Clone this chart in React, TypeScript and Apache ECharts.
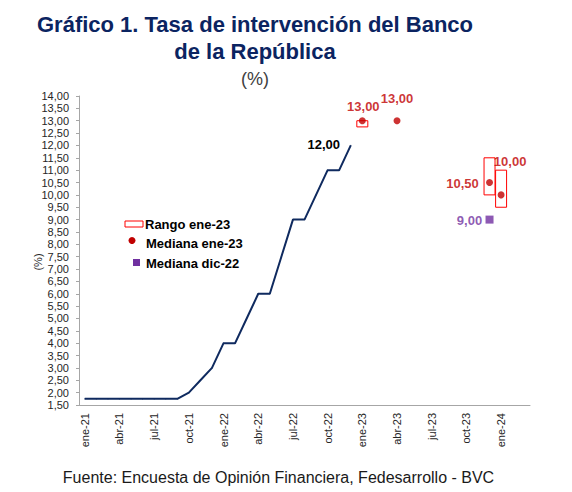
import React, { useEffect, useRef } from "react";
import * as echarts from "echarts";

const months = [
  "ene-21", "feb-21", "mar-21", "abr-21", "may-21", "jun-21", "jul-21", "ago-21", "sep-21", "oct-21", "nov-21", "dic-21",
  "ene-22", "feb-22", "mar-22", "abr-22", "may-22", "jun-22", "jul-22", "ago-22", "sep-22", "oct-22", "nov-22", "dic-22",
  "ene-23", "feb-23", "mar-23", "abr-23", "may-23", "jun-23", "jul-23", "ago-23", "sep-23", "oct-23", "nov-23", "dic-23",
  "ene-24", "feb-24", "mar-24",
];

// Tasa de intervención (ene-21 .. dic-22)
const policyRate = [
  1.75, 1.75, 1.75, 1.75, 1.75, 1.75, 1.75, 1.75, 1.75, 2.0, 2.5, 3.0,
  4.0, 4.0, 5.0, 6.0, 6.0, 7.5, 9.0, 9.0, 10.0, 11.0, 11.0, 12.0,
];

// Rango ene-23
const rangeMonths = ["ene-23", "dic-23", "ene-24"];
const rangeLow = [12.75, 10.0, 9.5];
const rangeHigh = [13.0, 11.5, 11.0];

// Mediana ene-23
const medianEneMonths = ["ene-23", "abr-23", "dic-23", "ene-24"];
const medianEneValues = [13.0, 13.0, 10.5, 10.0];

// Mediana dic-22
const medianDicMonths = ["dic-23"];
const medianDicValues = [9.0];

const yMin = 1.5;
const yMax = 14;
const yStep = 0.5;

const fmt = (v: number) => v.toFixed(2).replace(".", ",");

const FONT = "'Liberation Sans', Arial, sans-serif";
const NAVY = "#0f2a5f";
const RED = "#c00000";
const PURPLE = "#7030a0";

export default function App() {
  const ref = useRef<HTMLDivElement>(null);

  useEffect(() => {
    document.body.style.margin = "0";
    if (!ref.current) return;
    const chart = echarts.init(ref.current, undefined, { renderer: "svg" });

    const eneOffsets = [[1, -14], [0, -22], [-27, 1], [9, -33]];
    const dicOffsets = [[-20, 1]];

    const lineData = policyRate.map((v, i) =>
      i === policyRate.length - 1
        ? {
            value: v,
            label: {
              show: true,
              position: "inside",
              offset: [-27, -1],
              formatter: (p: any) => fmt(p.value),
              color: "#000",
              fontWeight: "bold",
              fontSize: 13,
              fontFamily: FONT,
            },
          }
        : v
    );

    const option: any = {
      animation: false,
      textStyle: { fontFamily: FONT },
      title: {
        text: "Gráfico 1. Tasa de intervención del Banco\nde la República",
        subtext: "(%)",
        left: 255,
        top: 11,
        padding: 0,
        textAlign: "center",
        itemGap: 4,
        textStyle: {
          fontFamily: FONT,
          fontSize: 22,
          fontWeight: "bold",
          color: "#0b2461",
          lineHeight: 27,
        },
        subtextStyle: {
          fontFamily: FONT,
          fontSize: 18,
          color: "#404040",
          lineHeight: 20,
        },
      },
      grid: { left: 79, right: 42, top: 96, bottom: 87, containLabel: false },
      xAxis: {
        type: "category",
        data: months,
        boundaryGap: true,
        axisLine: { lineStyle: { color: "#a6a6a6", width: 1 } },
        axisTick: { show: false },
        splitLine: { show: false },
        axisLabel: {
          interval: 2,
          rotate: 90,
          margin: 8,
          fontSize: 11,
          color: "#262626",
          fontFamily: FONT,
        },
      },
      yAxis: {
        type: "value",
        min: yMin,
        max: yMax,
        interval: yStep,
        axisLine: { show: true, lineStyle: { color: "#a6a6a6", width: 1 } },
        axisTick: { show: true, length: 3, lineStyle: { color: "#a6a6a6" } },
        splitLine: { show: false },
        axisLabel: {
          formatter: (v: number) => fmt(v),
          margin: 10,
          fontSize: 11,
          color: "#262626",
          fontFamily: FONT,
        },
      },
      series: [
        {
          name: "Tasa de intervención",
          type: "line",
          data: lineData,
          showSymbol: true,
          showAllSymbol: true,
          symbol: "circle",
          symbolSize: 1,
          lineStyle: { color: NAVY, width: 2 },
          itemStyle: { color: NAVY },
          z: 2,
        },
        {
          name: "Rango ene-23",
          type: "custom",
          data: rangeMonths.map((m, i) => [months.indexOf(m), rangeLow[i], rangeHigh[i]]),
          encode: { x: 0, y: [1, 2] },
          renderItem: (params: any, api: any) => {
            const x = api.value(0);
            const lo = api.value(1);
            const hi = api.value(2);
            const top = api.coord([x, hi]);
            const bot = api.coord([x, lo]);
            const w = api.size([1, 0])[0] * 0.95;
            return {
              type: "rect",
              shape: { x: top[0] - w / 2, y: top[1], width: w, height: bot[1] - top[1] },
              style: { fill: "rgba(255,255,255,0)", stroke: "#ff0000", lineWidth: 1 },
            };
          },
          z: 3,
        },
        {
          name: "Mediana ene-23",
          type: "scatter",
          symbol: "circle",
          symbolSize: 7,
          itemStyle: { color: RED },
          z: 4,
          data: medianEneMonths.map((m, i) => ({
            value: [m, medianEneValues[i]],
            label: {
              show: true,
              position: "inside",
              offset: eneOffsets[i],
              formatter: (p: any) => fmt(p.value[1]),
              color: RED,
              fontWeight: "bold",
              fontSize: 13,
              fontFamily: FONT,
            },
          })),
        },
        {
          name: "Mediana dic-22",
          type: "scatter",
          symbol: "rect",
          symbolSize: 8,
          itemStyle: { color: PURPLE },
          z: 4,
          data: medianDicMonths.map((m, i) => ({
            value: [m, medianDicValues[i]],
            label: {
              show: true,
              position: "inside",
              offset: dicOffsets[i],
              formatter: (p: any) => fmt(p.value[1]),
              color: PURPLE,
              fontWeight: "bold",
              fontSize: 13,
              fontFamily: FONT,
            },
          })),
        },
      ],
      graphic: [
        // legend
        {
          type: "rect",
          shape: { x: 125, y: 221, width: 18, height: 6 },
          style: { fill: "#fff", stroke: "#ff0000", lineWidth: 1 },
        },
        {
          type: "text",
          x: 145,
          y: 224.5,
          style: { text: "Rango ene-23", font: `bold 13px ${FONT}`, fill: "#000", verticalAlign: "middle" },
        },
        {
          type: "circle",
          shape: { cx: 132, cy: 240.5, r: 3.5 },
          style: { fill: RED },
        },
        {
          type: "text",
          x: 146,
          y: 243.5,
          style: { text: "Mediana ene-23", font: `bold 13px ${FONT}`, fill: "#000", verticalAlign: "middle" },
        },
        {
          type: "rect",
          shape: { x: 133, y: 259, width: 7, height: 7 },
          style: { fill: PURPLE },
        },
        {
          type: "text",
          x: 146,
          y: 263.5,
          style: { text: "Mediana dic-22", font: `bold 13px ${FONT}`, fill: "#000", verticalAlign: "middle" },
        },
        // y-axis name
        {
          type: "text",
          x: 38,
          y: 262,
          rotation: Math.PI / 2,
          style: { text: "(%)", font: `11px ${FONT}`, fill: "#262626", align: "center", verticalAlign: "middle" },
        },
        // source
        {
          type: "text",
          x: 278.5,
          y: 477,
          style: {
            text: "Fuente: Encuesta de Opinión Financiera, Fedesarrollo - BVC",
            font: `16px ${FONT}`,
            fill: "#1a1a1a",
            align: "center",
            verticalAlign: "middle",
          },
        },
      ],
    };

    chart.setOption(option);
    return () => chart.dispose();
  }, []);

  return <div ref={ref} style={{ width: 572, height: 492 }} />;
}
